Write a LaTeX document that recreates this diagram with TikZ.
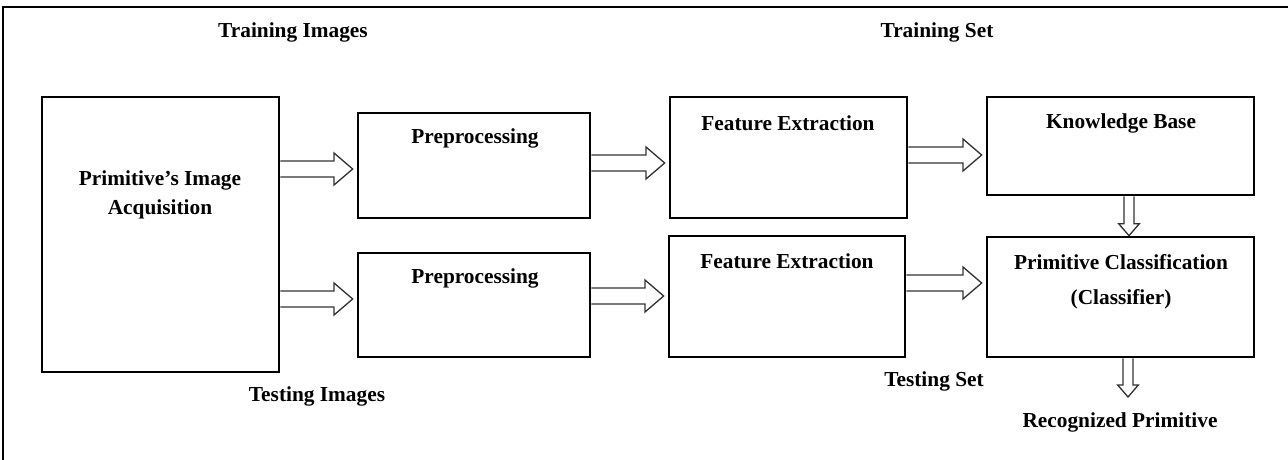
\documentclass[tikz,border=0pt]{standalone}
\usepackage{fontspec}
\setmainfont{Liberation Serif}
\usetikzlibrary{fit,calc}
\newcommand\hblock[2]{\draw[arr] let \p1=(#1), \p2=(#2) in
  (\x1,\y1+6pt) -- (\x2-17pt,\y1+6pt) -- (\x2-17pt,\y1+12pt) -- (\x2-3pt,\y1)
  -- (\x2-17pt,\y1-12pt) -- (\x2-17pt,\y1-6pt) -- (\x1,\y1-6pt);}
\newcommand\vblock[2]{\draw[arr] let \p1=(#1), \p2=(#2) in
  (\x1-3.75pt,\y1) -- (\x1-3.75pt,\y2+9pt) -- (\x1-7.75pt,\y2+9pt) -- (\x1,\y2)
  -- (\x1+7.75pt,\y2+9pt) -- (\x1+3.75pt,\y2+9pt) -- (\x1+3.75pt,\y1);}
\begin{document}
\begin{tikzpicture}[x=0.75pt,y=-0.75pt,
  box/.style={draw=black,line width=2pt,inner sep=0pt},
  lbl/.style={font=\fontsize{16}{21.75}\selectfont\bfseries,inner sep=0pt,align=center,text=black},
  arr/.style={draw=black!80,line width=1pt,fill=white,line join=miter}]
\useasboundingbox (0,0) rectangle (1288,460);
% frame
\coordinate (ftl) at (3,7);
\coordinate (ftr) at (1288,7);
\coordinate (fbl) at (3,460);
\draw[line width=1.6pt] (ftr) -- (ftl) -- (fbl);
% boxes
\node[box,fit={(42,97) (279,372)}] (acq) {};
\node[box,fit={(358,113) (590,218)}] (pre1) {};
\node[box,fit={(670,97) (907,218)}] (fe1) {};
\node[box,fit={(987,97) (1254,195)}] (kb) {};
\node[box,fit={(358,253) (590,357)}] (pre2) {};
\node[box,fit={(669,236) (905,357)}] (fe2) {};
\node[box,fit={(987,237) (1254,357)}] (cls) {};
% box texts
\node[lbl] (acqt) at (160,194.5) {Primitive’s Image\\Acquisition};
\node[lbl] (pre1t) at (475,138) {Preprocessing};
\node[lbl] (fe1t) at (788,123) {Feature Extraction};
\node[lbl] (kbt) at (1121,123) {Knowledge Base};
\node[lbl] (pre2t) at (475,278) {Preprocessing};
\node[lbl] (fe2t) at (787,261) {Feature Extraction};
\node[lbl] (cls1t) at (1121,262) {Primitive Classification};
\node[lbl] (cls2t) at (1121,299) {(Classifier)};
% free labels
\node[lbl] (trimg) at (293,32) {Training Images};
\node[lbl] (trset) at (937,32) {Training Set};
\node[lbl] (teimg) at (317,396) {Testing Images};
\node[lbl] (teset) at (934,381) {Testing Set};
\node[lbl] (rec) at (1120,422) {Recognized Primitive};
\coordinate (recin) at (1128,397);
% arrows
\hblock{acq.east |- 0,169}{pre1.west |- 0,169}
\hblock{pre1.east |- 0,163}{fe1.west |- 0,163}
\hblock{fe1.east |- 0,155}{kb.west |- 0,155}
\hblock{acq.east |- 0,299}{pre2.west |- 0,299}
\hblock{pre2.east |- 0,296}{fe2.west |- 0,296}
\hblock{fe2.east |- 0,283}{cls.west |- 0,283}
\vblock{kb.south -| 1129,0}{cls.north -| 1129,0}
\vblock{cls.south -| 1128,0}{recin}
\end{tikzpicture}
\end{document}
